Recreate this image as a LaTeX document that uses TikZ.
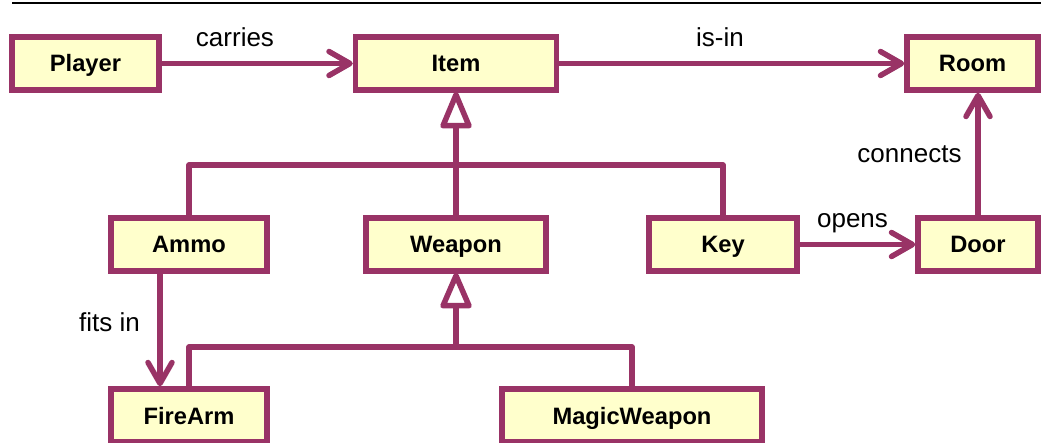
\documentclass[tikz,border=0pt]{standalone}
\usepackage{fontspec}
\setmainfont{Liberation Sans}
\usetikzlibrary{arrows.meta}
\definecolor{umlline}{HTML}{993366}
\definecolor{umlfill}{HTML}{FFFFCC}
\begin{document}
\begin{tikzpicture}[x=1pt,y=-1pt,
  cls/.style={draw=umlline, fill=umlfill, line width=5.5pt, minimum height=53pt, inner sep=0pt,
    text height=17pt, text depth=0pt, font=\fontsize{23.7}{28}\selectfont\bfseries},
  conn/.style={draw=umlline, line width=5.5pt, line join=round},
  assoc/.style={conn, -{Straight Barb[length=21pt,width=24pt,round]}},
  gentri/.style={conn, fill=white},
  lbl/.style={font=\fontsize{26}{30}\selectfont, inner sep=0pt, anchor=base}]
\useasboundingbox (0,0) rectangle (1041,443);
\draw[black, line width=2.3pt] (12,3) -- (1041,3);
\node[cls, minimum width=147pt] (Player) at (85.5,63.5) {Player};
\node[cls, minimum width=201pt] (Item) at (456,63.5) {Item};
\node[cls, minimum width=131pt] (Room) at (972.5,63.5) {Room};
\node[cls, minimum width=156pt] (Ammo) at (189,244.5) {Ammo};
\node[cls, minimum width=180pt] (Weapon) at (456,244.5) {Weapon};
\node[cls, minimum width=148pt] (Key) at (723,244.5) {Key};
\node[cls, minimum width=120pt] (Door) at (978,244.5) {Door};
\node[cls, minimum width=156pt] (FireArm) at (189,415.5) {FireArm};
\node[cls, minimum width=260pt] (MagicWeapon) at (632,415.5) {MagicWeapon};
\coordinate (j1) at (456,165);
\coordinate (j2) at (456,347);
\coordinate (t1) at ([yshift=-33pt]Item.south);
\coordinate (t2) at ([yshift=-32pt]Weapon.south);
\draw[assoc] (Player) -- (Item);
\draw[assoc] (Item) -- (Room);
\draw[assoc] (Key) -- (Door);
\draw[assoc] (Door.north) -- (Door.north |- Room.south);
\draw[assoc] ([xshift=-29pt]Ammo.south) -- ([xshift=-29pt]FireArm.north);
\draw[conn] (Ammo.north) |- (j1) -| (Key.north);
\draw[conn] (Weapon.north) -- (t1);
\draw[gentri] ([yshift=-2pt]Item.south) -- ([xshift=-13pt]t1) -- ([xshift=13pt]t1) -- cycle;
\draw[conn] (FireArm.north) |- (j2) -| (MagicWeapon.north);
\draw[conn] (j2) -- (t2);
\draw[gentri] ([yshift=-2pt]Weapon.south) -- ([xshift=-13pt]t2) -- ([xshift=13pt]t2) -- cycle;
\node[lbl] (lcarries) at (235,47) {carries};
\node[lbl] (lisin) at (720,47) {is-in};
\node[lbl] (lconnects) at (909.5,163) {connects};
\node[lbl] (lopens) at (852.5,228) {opens};
\node[lbl] (lfits) at (109.5,332) {fits in};
\end{tikzpicture}
\end{document}
